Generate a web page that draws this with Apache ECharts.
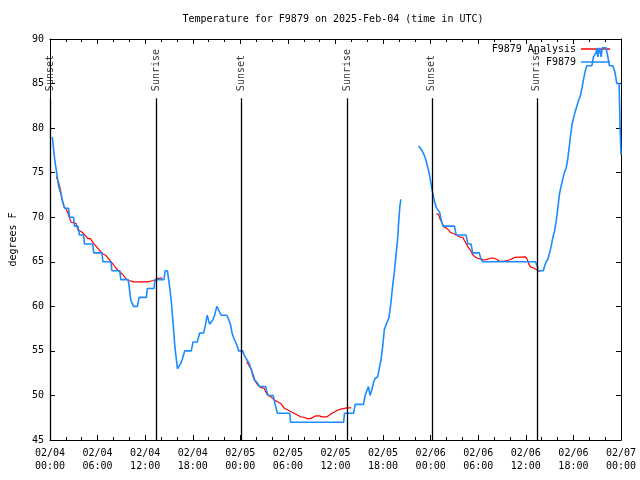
<!DOCTYPE html>
<html>
<head>
<meta charset="utf-8">
<script src="https://cdn.jsdelivr.net/npm/echarts@6/dist/echarts.min.js"></script>
<style>html,body{margin:0;padding:0;background:#fff}#c{width:640px;height:480px}</style>
</head>
<body>
<div id="c"></div>
<script>
// Hours since 2025-02-04 00:00 UTC
const xTickLabels = ['02/04\n00:00','02/04\n06:00','02/04\n12:00','02/04\n18:00',
  '02/05\n00:00','02/05\n06:00','02/05\n12:00','02/05\n18:00',
  '02/06\n00:00','02/06\n06:00','02/06\n12:00','02/06\n18:00','02/07\n00:00'];

const obsHours = [0.29,0.59,0.84,1.09,1.34,1.54,1.84,2.34,2.47,2.97,3.09,3.51,3.72,4.22,4.35,5.38,5.51,6.55,6.67,7.68,7.80,8.80,8.93,9.85,9.98,10.18,10.52,11.02,11.23,12.15,12.27,13.11,13.24,14.36,14.53,14.81,14.90,15.11,15.31,15.53,15.74,15.94,16.07,16.28,16.49,16.69,16.99,17.82,18.03,18.57,18.87,19.37,19.62,19.82,20.12,20.54,20.75,21.04,21.29,21.58,22.29,22.54,22.75,22.95,23.25,23.54,23.79,24.29,24.50,24.83,25.04,25.12,25.33,25.54,25.63,25.80,25.96,26.17,26.38,27.21,27.34,27.51,28.14,28.26,28.46,28.68,30.22,30.34,37.03,37.13,38.28,38.48,39.53,39.73,40.16,40.36,40.57,40.78,40.98,41.32,41.53,41.74,41.95,42.16,42.45,42.74,42.99,43.20,43.41,43.61,43.83,43.99,44.12,44.24,
  45.4,
  46.49,46.74,46.96,47.17,47.37,47.58,47.80,48.00,48.17,48.33,48.50,48.71,48.92,49.15,49.30,49.55,51.00,51.22,52.47,52.68,53.09,53.30,54.13,54.34,54.56,61.23,61.45,61.52,62.20,62.36,62.57,62.77,62.99,63.20,63.40,63.61,63.82,64.03,64.24,64.45,64.65,64.86,65.08,65.28,65.49,65.61,65.83,66.03,66.24,66.45,66.65,66.87,67.08,67.28,67.49,67.70,68.33,68.53,68.87,68.96,69.08,69.28,69.50,69.62,70.12,70.34,70.54,70.97,71.25,71.47,71.76,71.89,72.00];
const obsTemps = [79,76.5,75,73.5,72.75,72,71,71,70,70,69,69,68,68,67,67,66,66,65,65,64,64,63,63,62.25,60.75,60,60,61,61,62,62,63,63,64,64,63.4,62,60.4,58,55.5,54,53,53,53.6,54.1,55,55,56,56,57,57,58,59,58,58.5,59,60,60,59,59,58.5,58,57,56.25,55.7,55,55,54.5,54,54,53.6,53,53,52.3,51.75,51.75,51.4,51,51,50.4,50,50,49.5,48.75,48,48,47,47,48,48,49,49,50,51,50,50.6,51.4,51.9,52.1,53.1,54,55.5,57.4,58.1,58.7,60.4,62.25,63.75,65.6,67.5,69.75,71.25,72,
  null,
  78,78,77.4,77,76.5,75.75,75,74,73.1,72.4,71.7,71.1,70.8,70.5,69.8,69,69,68,68,67,67,66,66,65.3,65,65,64.5,64,64,64.5,65,65.25,66,66.75,67.7,68.4,69.5,71,72.6,73.5,74.25,75,75.5,76.5,78,79,80.4,81.2,81.9,82.1,83.1,83.6,84.5,85.5,86.4,87,87,88,88.5,89,88,89,88,89,89,88,87,87,86.2,85,85,80,77];

const anaHours = [0.79,1.00,1.09,1.34,1.50,1.75,2.04,2.25,2.47,2.67,2.88,3.29,3.51,3.92,4.35,4.76,5.10,5.38,5.80,6.22,6.64,7.05,7.48,7.89,8.30,8.73,9.14,9.55,9.98,10.52,12.27,12.48,13.11,13.44,13.65,14.15,
  19,
  24.79,25.04,25.21,25.42,25.54,25.76,25.96,26.17,26.58,27.01,27.21,27.42,27.84,28.26,28.68,29.09,29.51,29.93,30.34,30.77,31.18,31.59,32.02,32.43,32.85,33.06,33.47,33.97,34.31,34.94,35.15,35.56,35.98,36.40,36.81,37.44,37.98,
  43,
  48.71,49.00,49.21,49.42,49.67,49.96,50.25,50.50,50.80,51.00,51.43,51.75,52.05,52.25,52.47,52.68,53.01,53.30,53.59,53.93,54.34,54.76,55.18,55.60,56.01,56.35,56.64,57.26,57.47,57.89,58.19,58.60,58.85,59.98,60.19,60.39,60.61,61.02,61.36,61.77];
const anaTemps = [74.55,74.4,73.9,73,72,71.2,70.9,70.5,69.9,69.45,69.3,69.3,68.6,68.4,68.06,67.6,67.6,67.2,66.75,66.3,65.9,65.7,65.25,64.8,64.3,63.9,63.6,63.1,62.9,62.75,62.75,62.8,62.9,63.1,63.2,63.2,
  null,
  53.8,53.7,53.2,52.9,52.3,51.75,51.6,51.2,50.9,50.8,50.4,50.06,49.87,49.5,49.3,49.1,48.6,48.4,48.2,48.0,47.8,47.6,47.55,47.4,47.4,47.55,47.7,47.7,47.6,47.6,47.7,48.0,48.2,48.4,48.5,48.6,48.6,
  null,
  70.4,70.3,69.75,69.4,68.9,68.8,68.55,68.3,68.2,68.06,67.9,67.75,67.75,67.4,67.05,66.7,66.3,65.8,65.55,65.4,65.3,65.2,65.3,65.4,65.4,65.25,65.06,65.06,65.2,65.2,65.3,65.5,65.55,65.55,65.25,64.7,64.4,64.3,64.1,63.9];

const sunHours = [0.06, 13.44, 24.08, 37.48, 48.15, 61.39];
const sunNames = ['Sunset','Sunrise','Sunset','Sunrise','Sunset','Sunrise'];

const FONT = 'DejaVu Sans Mono';
const pair = (xs, ys) => xs.map((x, i) => [x, ys[i] === null ? '-' : ys[i]]);
const lineTop = 83.36, labelBase = 84.15;

const chart = echarts.init(document.getElementById('c'), null, {renderer: 'canvas'});
const tickCommon = {show: true, inside: true, length: 5, lineStyle: {color: '#000', width: 1}};
const minorCommon = {show: true, splitNumber: 3, length: 3, lineStyle: {color: '#000', width: 1}};
chart.setOption({
  animation: false,
  backgroundColor: '#fff',
  title: {
    text: 'Temperature for F9879 on 2025-Feb-04 (time in UTC)',
    left: 333, top: 14, padding: 0, textAlign: 'center',
    textStyle: {fontFamily: FONT, fontSize: 10, fontWeight: 'normal', color: '#000'}
  },
  legend: {
    data: [{name: 'F9879 Analysis', icon: 'rect'}, {name: 'F9879', icon: 'rect'}],
    orient: 'vertical', right: 30, top: 43, align: 'right', padding: 0,
    itemWidth: 29, itemHeight: 1.5, itemGap: 1,
    textStyle: {fontFamily: FONT, fontSize: 10, color: '#000', lineHeight: 12}
  },
  grid: {left: 46, right: 19, top: 39, bottom: 40},
  xAxis: [{
    type: 'value', min: 0, max: 72, interval: 6, position: 'bottom',
    axisLine: {show: true, onZero: false, lineStyle: {color: '#000', width: 1}},
    axisTick: tickCommon, minorTick: minorCommon, splitLine: {show: false},
    axisLabel: {fontFamily: FONT, fontSize: 10, color: '#000', lineHeight: 13, margin: 7,
      formatter: v => xTickLabels[Math.round(v / 6)]}
  }, {
    type: 'value', min: 0, max: 72, interval: 6, position: 'top',
    axisLine: {show: true, onZero: false, lineStyle: {color: '#000', width: 1}},
    axisTick: tickCommon, minorTick: minorCommon, splitLine: {show: false},
    axisLabel: {show: false}
  }],
  yAxis: [{
    type: 'value', min: 45, max: 90, interval: 5, position: 'left',
    name: 'degrees F', nameLocation: 'middle', nameGap: 32,
    nameTextStyle: {fontFamily: FONT, fontSize: 10, color: '#000'},
    axisLine: {show: true, onZero: false, lineStyle: {color: '#000', width: 1}},
    axisTick: tickCommon, splitLine: {show: false},
    axisLabel: {fontFamily: FONT, fontSize: 10, color: '#000', margin: 6}
  }, {
    type: 'value', min: 45, max: 90, interval: 5, position: 'right',
    axisLine: {show: true, onZero: false, lineStyle: {color: '#000', width: 1}},
    axisTick: tickCommon, splitLine: {show: false}, axisLabel: {show: false}
  }],
  series: [{
    name: 'sun', type: 'scatter', silent: true, z: 1,
    symbolSize: 1, itemStyle: {color: 'rgba(0,0,0,0)'},
    data: sunHours.map((h, i) => ({value: [h, labelBase], name: sunNames[i]})),
    label: {show: true, formatter: '{b}', rotate: 90, position: 'inside', align: 'left', verticalAlign: 'middle',
      fontFamily: FONT, fontSize: 10, color: '#000'},
    markLine: {
      silent: true, symbol: ['none', 'none'], label: {show: false},
      lineStyle: {color: '#000', width: 1.3, type: 'solid'},
      data: sunHours.map(h => [{coord: [h, 45]}, {coord: [h, lineTop]}])
    }
  }, {
    name: 'F9879 Analysis', type: 'line', showSymbol: false, symbol: 'none', connectNulls: false,
    lineStyle: {color: '#ff0000', width: 1.2}, itemStyle: {color: '#ff0000'}, z: 3,
    data: pair(anaHours, anaTemps)
  }, {
    name: 'F9879', type: 'line', showSymbol: false, symbol: 'none', connectNulls: false,
    lineStyle: {color: '#1a8cff', width: 1.6}, itemStyle: {color: '#1a8cff'}, z: 4,
    data: pair(obsHours, obsTemps)
  }]
});
</script>
</body>
</html>
